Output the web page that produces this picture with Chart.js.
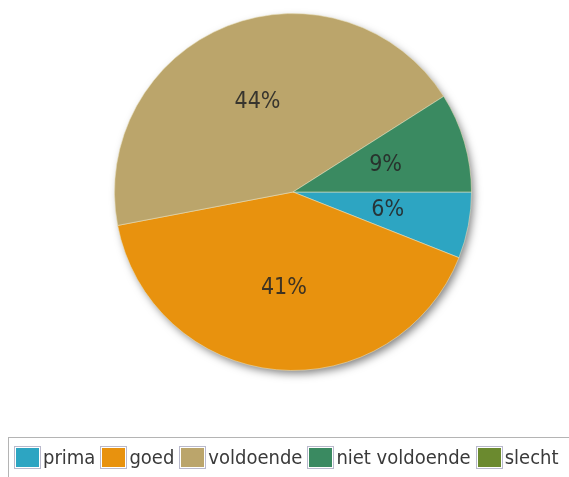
<!DOCTYPE html>
<html>
<head>
<meta charset="utf-8">
<script src="https://cdn.jsdelivr.net/npm/chart.js@4/dist/chart.umd.min.js"></script>
<style>
  html, body { margin: 0; padding: 0; background: #fff; overflow: hidden; }
  #wrap { position: relative; width: 569px; height: 477px; }
  #pie { position: absolute; left: 0; top: 0; }
  #legend {
    position: absolute; left: 8px; top: 437px; width: 640px; height: 60px;
    border: 1px solid #b4b4b4; box-sizing: border-box;
    display: flex; align-items: center; white-space: nowrap;
    padding: 0 0 20px 5px;
    font-family: "DejaVu Sans Condensed", "DejaVu Sans", sans-serif;
    font-size: 20px; color: #3a3a3a;
  }
  .sw {
    width: 27px; height: 23px; box-sizing: border-box;
    border: 1px solid #b9b9cc; padding: 1px; background-clip: content-box;
    display: inline-block; flex: none;
  }
  .lb { margin: 0 5px 0 2px; }
</style>
</head>
<body>
<div id="wrap">
  <canvas id="pie" width="569" height="477"></canvas>
  <div id="legend"></div>
</div>
<script>
// Beoordelingen (percentages)
const categories = ['prima', 'goed', 'voldoende', 'niet voldoende', 'slecht'];
const values = [6, 41, 44, 9, 0];
const colors = ['#2da5c2', '#e8920e', '#bba56b', '#3a8a61', '#6b8a2f'];

// Soft drop shadow under the whole pie
const pieShadow = {
  id: 'pieShadow',
  beforeDatasetsDraw(chart) {
    const arc = chart.getDatasetMeta(0).data[0];
    if (!arc) return;
    const { x, y, outerRadius } = arc.getProps(['x', 'y', 'outerRadius'], true);
    const ctx = chart.ctx;
    ctx.save();
    ctx.shadowColor = 'rgba(0,0,0,0.5)';
    ctx.shadowBlur = 8;
    ctx.shadowOffsetX = 3;
    ctx.shadowOffsetY = 4;
    ctx.fillStyle = '#bbb';
    ctx.beginPath();
    ctx.arc(x, y, outerRadius - 1, 0, Math.PI * 2);
    ctx.fill();
    ctx.restore();
  }
};

// Percentage labels inside each slice
const sliceLabels = {
  id: 'sliceLabels',
  afterDatasetsDraw(chart) {
    const ctx = chart.ctx;
    const meta = chart.getDatasetMeta(0);
    ctx.save();
    ctx.font = '23px "DejaVu Sans Condensed", "DejaVu Sans", sans-serif';
    ctx.fillStyle = 'rgba(38,38,38,0.88)';
    ctx.textAlign = 'center';
    ctx.textBaseline = 'middle';
    meta.data.forEach((el, i) => {
      const v = values[i];
      if (!v) return;
      const p = el.getProps(['x', 'y', 'startAngle', 'endAngle', 'outerRadius'], true);
      const mid = (p.startAngle + p.endAngle) / 2;
      const d = p.outerRadius * 0.54;
      ctx.fillText(v + '%', p.x + Math.cos(mid) * d, p.y + Math.sin(mid) * d);
    });
    ctx.restore();
  }
};

new Chart(document.getElementById('pie'), {
  type: 'pie',
  data: {
    labels: categories,
    datasets: [{
      data: values,
      backgroundColor: colors,
      borderColor: 'rgba(235,225,190,0.55)',
      borderWidth: 1
    }]
  },
  options: {
    responsive: false,
    animation: false,
    rotation: 90,
    layout: { padding: { left: 114, right: 97, top: 13, bottom: 106 } },
    plugins: {
      legend: { display: false },
      tooltip: { enabled: false }
    }
  },
  plugins: [pieShadow, sliceLabels]
});

// Legend row
const legend = document.getElementById('legend');
categories.forEach((name, i) => {
  const sw = document.createElement('span');
  sw.className = 'sw';
  sw.style.backgroundColor = colors[i];
  const lb = document.createElement('span');
  lb.className = 'lb';
  lb.textContent = name;
  legend.appendChild(sw);
  legend.appendChild(lb);
});
</script>
</body>
</html>
